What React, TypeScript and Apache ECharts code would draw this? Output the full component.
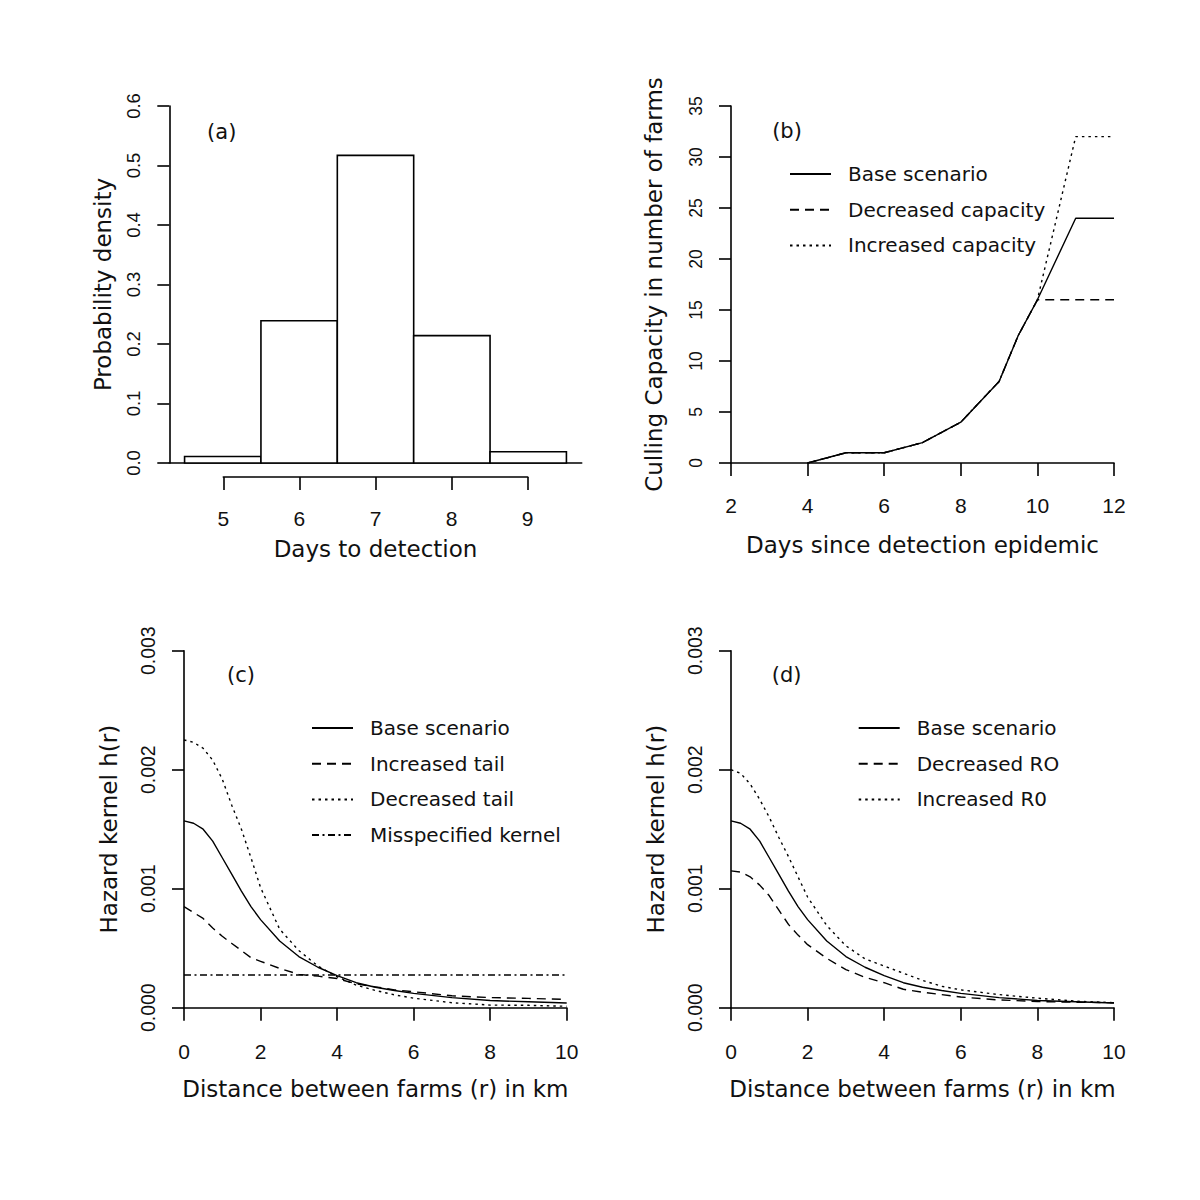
import React, { useEffect, useRef } from "react";
import * as echarts from "echarts";

// ---------- (a) histogram: days to detection ----------
const binStart = [4.5, 5.5, 6.5, 7.5, 8.5];
const binEnd = [5.5, 6.5, 7.5, 8.5, 9.5];
const density = [0.011, 0.239, 0.517, 0.214, 0.019];

// ---------- (b) culling capacity ----------
const days = [4, 5, 6, 7, 8, 9, 9.5, 10, 11, 12];
const cullBase = [0, 1, 1, 2, 4, 8, 12.5, 16, 24, 24];
const cullDecreased = [0, 1, 1, 2, 4, 8, 12.5, 16, 16, 16];
const cullIncreased = [0, 1, 1, 2, 4, 8, 12.5, 16, 32, 32];

// ---------- (c), (d) hazard kernels ----------
const dist = [0, 0.25, 0.5, 0.75, 1, 1.25, 1.5, 1.75, 2, 2.5, 3, 3.5, 4, 4.5, 5, 5.5, 6, 7, 8, 9, 10];
const kernelBase = [0.00157, 0.00155, 0.0015, 0.0014, 0.00126, 0.00112, 0.00098, 0.00085, 0.00074, 0.00056, 0.00043, 0.00034, 0.00027, 0.00021, 0.000172, 0.000145, 0.00012, 0.000085, 0.00006, 0.00005, 0.00004];
const kernelIncreasedTail = [0.00085, 0.0008, 0.00075, 0.00067, 0.0006, 0.00054, 0.00048, 0.00042, 0.00039, 0.00033, 0.00028, 0.000265, 0.000245, 0.0002, 0.000175, 0.00015, 0.000134, 0.0001, 0.000085, 0.000078, 0.00007];
const kernelDecreasedTail = [0.00225, 0.00223, 0.00218, 0.00208, 0.00192, 0.0017, 0.0015, 0.00126, 0.00101, 0.00066, 0.00048, 0.00035, 0.00026, 0.00019, 0.000145, 0.000108, 0.00008, 0.000042, 0.000022, 0.00002, 0.000012];
const kernelMisspecified = [0.000275, 0.000275, 0.000275, 0.000275, 0.000275, 0.000275, 0.000275, 0.000275, 0.000275, 0.000275, 0.000275, 0.000275, 0.000275, 0.000275, 0.000275, 0.000275, 0.000275, 0.000275, 0.000275, 0.000275, 0.000275];
const kernelDecreasedR0 = [0.00115, 0.00114, 0.0011, 0.00103, 0.00094, 0.00082, 0.0007, 0.00061, 0.00053, 0.000415, 0.00032, 0.000255, 0.00021, 0.000155, 0.00013, 0.00011, 0.00009, 0.000065, 0.000052, 0.000046, 0.000042];
const kernelIncreasedR0 = [0.002, 0.00197, 0.00188, 0.00175, 0.0016, 0.00143, 0.00127, 0.0011, 0.00093, 0.00069, 0.00052, 0.00041, 0.00035, 0.00029, 0.00023, 0.00018, 0.00015, 0.00011, 0.00008, 0.000055, 0.000042];

const legendB = ["Base scenario", "Decreased capacity", "Increased capacity"];
const legendC = ["Base scenario", "Increased tail", "Decreased tail", "Misspecified kernel"];
const legendD = ["Base scenario", "Decreased RO", "Increased R0"];

const TEXT = "#111";
const TITLE_FONT = "DejaVu Sans";
const TICK_FONT = "Liberation Sans";
const AXIS_LINE = { color: "#000", width: 1.6 };
const CURVE_W = 1.4;
const DASHED = [9, 6];
const DOTTED = [2.5, 4];
const DOTDASH = [7, 3.5, 2, 3.5];

const pairs = (xs: number[], ys: number[]) => xs.map((x, i) => [x, ys[i]]);

function xAxisCfg(grid: number, min: number, max: number, interval: number, name: string, nameGap: number, margin: number) {
  return {
    type: "value",
    gridIndex: grid,
    min,
    max,
    interval,
    name,
    nameLocation: "middle",
    nameGap,
    nameTextStyle: { fontFamily: TITLE_FONT, fontSize: 23, color: TEXT },
    axisLine: { show: true, onZero: false, lineStyle: AXIS_LINE },
    axisTick: { show: true, inside: false, length: 13, lineStyle: AXIS_LINE },
    axisLabel: { show: true, margin, fontFamily: TICK_FONT, fontSize: 21, color: TEXT },
    splitLine: { show: false },
  };
}

function yAxisCfg(grid: number, min: number, max: number, interval: number, name: string, nameGap: number, digits: number, fontSize: number) {
  return {
    type: "value",
    gridIndex: grid,
    min,
    max,
    interval,
    name,
    nameLocation: "middle",
    nameGap,
    nameRotate: 90,
    nameTextStyle: { fontFamily: TITLE_FONT, fontSize: 23, color: TEXT },
    axisLine: { show: true, onZero: false, lineStyle: AXIS_LINE },
    axisTick: { show: true, inside: false, length: 12, lineStyle: AXIS_LINE },
    axisLabel: {
      show: true,
      rotate: 90,
      margin: 26,
      fontFamily: TICK_FONT,
      fontSize,
      color: TEXT,
      formatter: (v: number) => (digits > 0 ? v.toFixed(digits) : String(Math.round(v))),
    },
    splitLine: { show: false },
  };
}

function lineSeries(name: string, xi: number, xs: number[], ys: number[], type: any) {
  return {
    type: "line",
    name,
    xAxisIndex: xi,
    yAxisIndex: xi,
    data: pairs(xs, ys),
    symbol: "none",
    showSymbol: false,
    lineStyle: { color: "#000", width: CURVE_W, type },
    itemStyle: { color: "#000" },
    silent: true,
  };
}

function legendCfg(data: string[], left: number, top: number) {
  return {
    data,
    orient: "vertical",
    left,
    top,
    padding: 0,
    itemWidth: 41,
    itemHeight: 14,
    itemGap: 15.7,
    selectedMode: false,
    itemStyle: { opacity: 0, color: "rgba(0,0,0,0)", borderWidth: 0 },
    textStyle: { fontFamily: TITLE_FONT, fontSize: 20, color: TEXT, padding: [0, 0, 0, 12] },
  };
}

function panelLabel(text: string, x: number, y: number) {
  return {
    type: "text",
    x,
    y,
    style: {
      text,
      fontFamily: TITLE_FONT,
      fontSize: 21,
      font: `21px "${TITLE_FONT}"`,
      fill: TEXT,
      align: "center",
      verticalAlign: "middle",
      textAlign: "center",
      textVerticalAlign: "middle",
    },
  };
}

export default function App() {
  const ref = useRef<HTMLDivElement>(null);

  useEffect(() => {
    document.body.style.margin = "0";
    if (!ref.current) return;
    const chart = echarts.init(ref.current, undefined, { renderer: "svg" });

    const histData = binStart.map((s, i) => [s, binEnd[i], density[i]]);

    const option: any = {
      animation: false,
      backgroundColor: "#fff",
      grid: [
        { left: 169.3, top: 106, width: 412.4, height: 357 },
        { left: 223.3, top: 300, width: 304.4, height: 177 },
        { left: 731, top: 106, width: 383, height: 357 },
        { left: 184, top: 650.7, width: 382.7, height: 357 },
        { left: 731, top: 650.7, width: 383, height: 357 },
      ],
      xAxis: [
        {
          type: "value",
          gridIndex: 0,
          min: 4.3,
          max: 9.7,
          axisLine: { show: true, onZero: false, lineStyle: AXIS_LINE },
          axisTick: { show: false },
          axisLabel: { show: false },
          splitLine: { show: false },
        },
        xAxisCfg(1, 5, 9, 1, "Days to detection", 60, 31),
        xAxisCfg(2, 2, 12, 2, "Days since detection epidemic", 70, 32),
        xAxisCfg(3, 0, 10, 2, "Distance between farms (r) in km", 70, 33),
        xAxisCfg(4, 0, 10, 2, "Distance between farms (r) in km", 70, 33),
      ],
      yAxis: [
        yAxisCfg(0, 0, 0.6, 0.1, "Probability density", 55, 1, 18.5),
        { type: "value", gridIndex: 1, min: 0, max: 1, show: false },
        yAxisCfg(2, 0, 35, 5, "Culling Capacity in number of farms", 66, 0, 17.5),
        yAxisCfg(3, 0, 0.003, 0.001, "Hazard kernel h(r)", 64, 3, 19.5),
        yAxisCfg(4, 0, 0.003, 0.001, "Hazard kernel h(r)", 64, 3, 19.5),
      ],
      legend: [
        legendCfg(legendB, 789, 164),
        legendCfg(legendC, 311, 718),
        legendCfg(legendD, 857.7, 718),
      ],
      graphic: [
        panelLabel("(a)", 221.7, 131.7),
        panelLabel("(b)", 787, 130.7),
        panelLabel("(c)", 241, 675),
        panelLabel("(d)", 786.7, 675),
      ],
      series: [
        {
          type: "custom",
          name: "Days to detection",
          xAxisIndex: 0,
          yAxisIndex: 0,
          data: histData,
          encode: { x: [0, 1], y: 2 },
          silent: true,
          renderItem: (params: any, api: any) => {
            const p0 = api.coord([api.value(0), api.value(2)]);
            const p1 = api.coord([api.value(1), 0]);
            return {
              type: "rect",
              shape: { x: p0[0], y: p0[1], width: p1[0] - p0[0], height: p1[1] - p0[1] },
              style: { fill: "#fff", stroke: "#000", lineWidth: 1.6 },
            };
          },
        },
        lineSeries("Base scenario", 2, days, cullBase, "solid"),
        lineSeries("Decreased capacity", 2, days, cullDecreased, DASHED),
        lineSeries("Increased capacity", 2, days, cullIncreased, DOTTED),
        lineSeries("Base scenario", 3, dist, kernelBase, "solid"),
        lineSeries("Increased tail", 3, dist, kernelIncreasedTail, DASHED),
        lineSeries("Decreased tail", 3, dist, kernelDecreasedTail, DOTTED),
        lineSeries("Misspecified kernel", 3, dist, kernelMisspecified, DOTDASH),
        lineSeries("Base scenario", 4, dist, kernelBase, "solid"),
        lineSeries("Decreased RO", 4, dist, kernelDecreasedR0, DASHED),
        lineSeries("Increased R0", 4, dist, kernelIncreasedR0, DOTTED),
      ],
    };

    chart.setOption(option);
    return () => chart.dispose();
  }, []);

  return <div ref={ref} style={{ width: 1200, height: 1200 }} />;
}
